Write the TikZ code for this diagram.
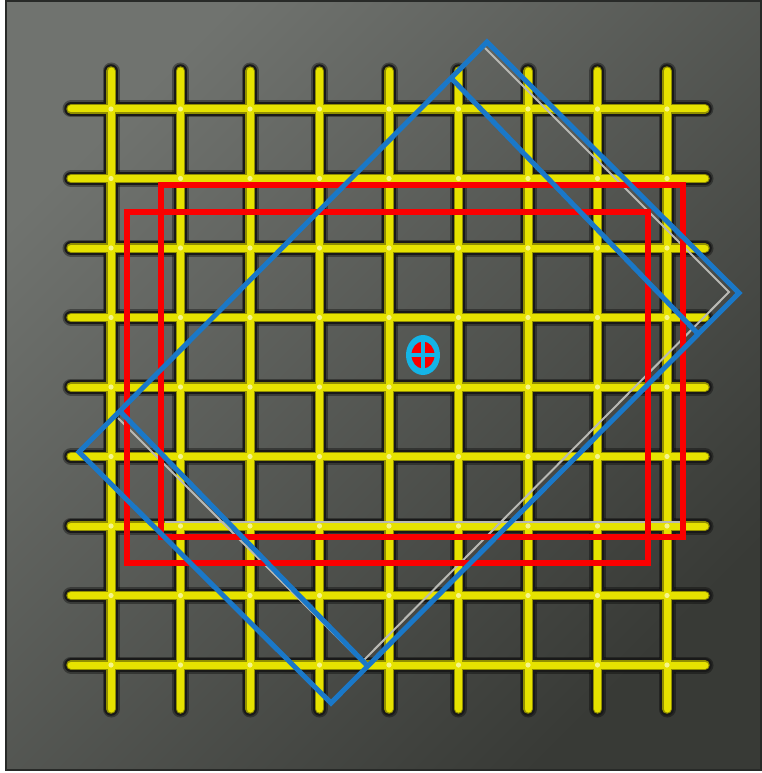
\documentclass[tikz,border=0pt]{standalone}
\usetikzlibrary{calc}
\definecolor{bgA}{RGB}{112,115,111}
\definecolor{bgM}{RGB}{70,73,69}
\definecolor{bgB}{RGB}{56,58,54}
\definecolor{frameC}{RGB}{40,42,40}
\definecolor{gridY}{RGB}{230,226,0}
\definecolor{gridO}{RGB}{145,143,0}
\definecolor{gridH}{RGB}{245,245,140}
\definecolor{fovRed}{RGB}{250,0,0}
\definecolor{fovBlue}{RGB}{26,120,200}
\definecolor{ghost}{RGB}{185,185,180}
\definecolor{markC}{RGB}{20,180,230}
\tikzset{
  gridsoft/.style={line width=17pt, line cap=round, black, opacity=0.35},
  gridshadow/.style={line width=13.5pt, line cap=round, black!90},
  gridedge/.style={line width=9.5pt, line cap=round, gridO},
  gridcore/.style={line width=7pt, line cap=round, gridY},
  redbox/.style={draw=fovRed, line width=5.2pt},
  bluebox/.style={draw=fovBlue, line width=5pt, line join=miter},
  ghostline/.style={draw=ghost, line width=2pt, line join=miter},
}
\begin{document}
\begin{tikzpicture}[x=1pt,y=-1pt]
\useasboundingbox (0,0) rectangle (761,773);
\fill[white] (0,0) rectangle (761,773);
% panel
\coordinate (P1) at (6,1);
\coordinate (P2) at (761,770);
\shade[top color=bgA, middle color=bgM, bottom color=bgB, shading angle=45] (P1) rectangle (P2);
\draw[frameC, line width=2pt] (P1) rectangle (P2);
% grid coordinates
\foreach \i in {0,...,8} {
  \coordinate (v\i a) at ({111+69.5*\i}, 71);
  \coordinate (v\i b) at ({111+69.5*\i}, 709);
  \coordinate (h\i a) at (71, {109+69.5*\i});
  \coordinate (h\i b) at (705, {109+69.5*\i});
}
\foreach \i in {0,...,8} { \draw[gridsoft] (v\i a) -- (v\i b); \draw[gridsoft] (h\i a) -- (h\i b); }
\foreach \i in {0,...,8} { \draw[gridshadow] (v\i a) -- (v\i b); \draw[gridshadow] (h\i a) -- (h\i b); }
\foreach \i in {0,...,8} { \draw[gridedge] (v\i a) -- (v\i b); \draw[gridedge] (h\i a) -- (h\i b); }
\foreach \i in {0,...,8} { \draw[gridcore] (v\i a) -- (v\i b); \draw[gridcore] (h\i a) -- (h\i b); }
\foreach \i in {0,...,8} { \foreach \j in {0,...,8} { \fill[gridH] (v\i a |- h\j a) circle (2.6); } }
% blue field corners
\coordinate (T) at (487,42);
\coordinate (R) at (739,293);
\coordinate (B) at (331,703);
\coordinate (L) at (79,452);
\coordinate (T2) at ($(T)!0.088!(L)$);
\coordinate (R2) at ($(R)!0.1!(B)$);
\coordinate (L2) at ($(L)!0.1!(T)$);
\coordinate (B2) at ($(B)!0.09!(R)$);
% ghost (grey) outlines
\coordinate (GT) at (485,48);
\coordinate (GR) at (729,292);
\coordinate (GB) at (362,662);
\coordinate (GL) at (118,418);
\draw[ghostline] (GT) -- (GR) -- (GB) -- (GL);
\coordinate (GA1) at (84,455);
\coordinate (GA2) at (152,524);
\draw[ghostline] (GA1) -- (GA2);
\coordinate (GH1) at (165,522);
\coordinate (GH2) at (680,522);
\draw[ghostline] (GH1) -- (GH2);
% red fields
\coordinate (r1a) at (161,185);
\coordinate (r1b) at (683,537);
\coordinate (r2a) at (127,212);
\coordinate (r2b) at (648,563);
\draw[redbox] (r1a) rectangle (r1b);
\draw[redbox] (r2a) rectangle (r2b);
% blue fields
\draw[bluebox] (T) -- (R) -- (B) -- (L) -- cycle;
\draw[bluebox] (T2) -- (R2);
\draw[bluebox] (L2) -- (B2);
% centre marker
\coordinate (C) at (423,355);
\fill[markC] (C) ellipse (17 and 20);
\fill[fovRed] (C) ellipse (11.5 and 13.5);
\draw[markC, line width=3.6pt] ($(C)+(-12,0)$) -- ($(C)+(12,0)$);
\draw[markC, line width=3.6pt] ($(C)+(0,-14)$) -- ($(C)+(0,14)$);
\end{tikzpicture}
\end{document}
